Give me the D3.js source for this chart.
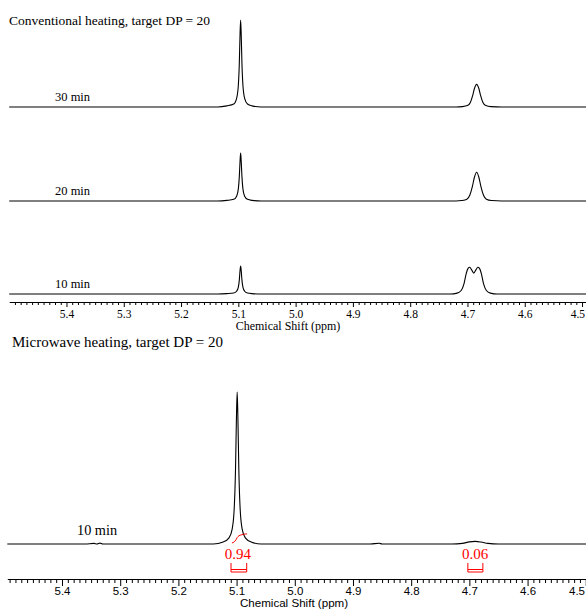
<!DOCTYPE html>
<html>
<head>
<meta charset="utf-8">
<script src="https://d3js.org/d3.v7.min.js"></script>
<style>
  body { margin: 0; background: #fff; }
  .trace { fill: none; stroke: #000; stroke-width: 1.1px; }
  .integral { fill: none; stroke: #f00; stroke-width: 1px; }
  .serif { font-family: "Liberation Serif", "Times New Roman", serif; }
  .sans { font-family: "Liberation Sans", Arial, sans-serif; }
  .axis path, .axis line { stroke: #000; }
</style>
</head>
<body>
<svg id="chart" width="586" height="609"></svg>
<script>
  // spectra as [ppm, intensity] points
  const conv30 = [
    [5.50, 0], [5.20, 0], [5.136, 0], [5.120, 1.3], [5.108, 3.5], [5.103, 10], [5.100, 25], [5.0983, 50],
    [5.097, 84], [5.096, 100], [5.095, 84], [5.0937, 50], [5.092, 25], [5.089, 10], [5.084, 3.5],
    [5.076, 1.3], [5.06, 0], [4.80, 0], [4.72, 0], [4.709, 0.4], [4.700, 1.6], [4.695, 5.2],
    [4.691, 13], [4.688, 21], [4.684, 26], [4.680, 21], [4.677, 13], [4.673, 5.2], [4.668, 1.6],
    [4.659, 0.4], [4.64, 0], [4.48, 0]
  ];
  const conv20 = [
    [5.50, 0], [5.20, 0], [5.136, 0], [5.120, 0.7], [5.108, 1.9], [5.103, 5.5], [5.100, 14], [5.0983, 28],
    [5.097, 46], [5.096, 55], [5.095, 46], [5.0937, 28], [5.092, 14], [5.089, 5.5], [5.084, 1.9],
    [5.076, 0.7], [5.06, 0], [4.80, 0], [4.72, 0], [4.710, 0.5], [4.701, 2], [4.696, 6.6],
    [4.6915, 16.5], [4.688, 27], [4.684, 33], [4.680, 27], [4.6765, 16.5], [4.672, 6.6], [4.667, 2],
    [4.658, 0.5], [4.64, 0], [4.48, 0]
  ];
  const conv10 = [
    [5.50, 0], [5.20, 0], [5.136, 0], [5.120, 0.4], [5.108, 1.1], [5.103, 3.2], [5.100, 8], [5.0983, 16],
    [5.097, 27], [5.096, 32], [5.095, 27], [5.0937, 16], [5.092, 8], [5.089, 3.2], [5.084, 1.1],
    [5.076, 0.4], [5.06, 0], [4.80, 0], [4.73, 0], [4.718, 1], [4.711, 4], [4.706, 12], [4.702, 24],
    [4.699, 29.5], [4.696, 30.7], [4.693, 28], [4.689, 24], [4.685, 28], [4.682, 30.7], [4.679, 29.5],
    [4.676, 24], [4.672, 12], [4.667, 4], [4.660, 1], [4.648, 0], [4.48, 0]
  ];
  const micro10 = [
    [5.494, 0], [5.36, 0], [5.345, 0.4], [5.340, 0], [5.335, 0.6], [5.330, 0], [5.14, 0], [5.123, 1.3],
    [5.113, 4], [5.1075, 10], [5.104, 24], [5.1018, 50], [5.1002, 84], [5.099, 100], [5.0978, 84],
    [5.0962, 50], [5.094, 24], [5.0905, 10], [5.085, 4], [5.075, 1.3], [5.058, 0], [4.87, 0],
    [4.855, 0.5], [4.850, 0], [4.73, 0], [4.712, 0.4], [4.700, 1.4], [4.690, 1.7], [4.680, 1.3],
    [4.668, 0.4], [4.65, 0], [4.48, 0]
  ];
  const microIntegral = [
    [5.108, 0.7], [5.104, 1.4], [5.101, 2.8], [5.099, 4.2], [5.096, 5.4], [5.092, 6.0], [5.088, 6.4],
    [5.085, 6.6], [5.082, 6.6]
  ];
  const convLabels = ["30 min", "20 min", "10 min"];
  const integralRanges = [[5.1096, 5.0826], [4.7026, 4.6768]];
  const integralValues = ["0.94", "0.06"];
  const integralCenters = [5.098, 4.690];

  const svg = d3.select("#chart");

  // last tick label sits against the right edge, as in the original
  function fitLastLabel(g) {
    g.selectAll(".tick").filter(d => d === 4.5).select("text")
      .attr("text-anchor", "end")
      .attr("x", function () { return 585 - d3.select(this.parentNode).datum() * 0 - xOf(this); });
  }
  function xOf(node) {
    const t = node.parentNode.getAttribute("transform");
    return +t.match(/translate\(([-\d.]+)/)[1];
  }

  // ---- top panel: conventional heating ----
  const xTop = d3.scaleLinear().domain([5.5, 4.48]).range([9.2, 593.5]);
  const topBaselines = [107, 201, 294];
  const convTraces = [conv30, conv20, conv10];

  convTraces.forEach((tr, i) => {
    const y = d3.scaleLinear().domain([0, 100]).range([topBaselines[i], topBaselines[i] - 87]);
    const line = d3.line().x(d => xTop(d[0])).y(d => y(d[1])).curve(d3.curveMonotoneX);
    svg.append("path").datum(tr).attr("class", "trace").attr("d", line);
    svg.append("text").attr("class", "serif")
      .attr("x", 55).attr("y", topBaselines[i] - 6)
      .style("font-size", "12.5px")
      .text(convLabels[i]);
  });

  svg.append("text").attr("class", "serif")
    .attr("x", 9).attr("y", 25)
    .style("font-size", "13.5px")
    .text("Conventional heating, target DP = 20");

  const ticksAll = d3.range(449, 550).map(d => d / 100);
  const minorTicks = ticksAll.filter(d => Math.round(d * 100) % 10 !== 0);
  const majorTicks = d3.range(45, 55).map(d => d / 10);

  const topAxisY = 302;
  svg.append("g").attr("class", "axis")
    .attr("transform", `translate(0,${topAxisY})`)
    .call(d3.axisBottom(xTop).tickValues(minorTicks).tickSize(3).tickSizeOuter(0).tickFormat(""));
  const topMajor = svg.append("g").attr("class", "axis serif")
    .attr("transform", `translate(0,${topAxisY})`)
    .call(d3.axisBottom(xTop).tickValues(majorTicks).tickSize(5).tickSizeOuter(0).tickFormat(d3.format(".1f")));
  topMajor.select(".domain").remove();
  topMajor.selectAll("text").attr("y", 8).style("font-size", "11.5px")
    .style("font-family", '"Liberation Serif", "Times New Roman", serif');
  fitLastLabel(topMajor);
  svg.append("text").attr("class", "serif")
    .attr("x", 288).attr("y", 330).attr("text-anchor", "middle")
    .style("font-size", "12px")
    .text("Chemical Shift (ppm)");

  // ---- bottom panel: microwave heating ----
  const xBot = d3.scaleLinear().domain([5.494, 4.48]).range([7.3, 597.4]);
  const yBot = d3.scaleLinear().domain([0, 100]).range([544, 392]);
  const botLine = d3.line().x(d => xBot(d[0])).y(d => yBot(d[1])).curve(d3.curveMonotoneX);

  svg.append("text").attr("class", "serif")
    .attr("x", 12).attr("y", 347)
    .style("font-size", "15px")
    .text("Microwave heating, target DP = 20");

  svg.append("path").datum(micro10).attr("class", "trace").attr("d", botLine);
  svg.append("path").datum(microIntegral).attr("class", "integral").attr("d", botLine);

  svg.append("text").attr("class", "serif")
    .attr("x", 77).attr("y", 535)
    .style("font-size", "14.3px")
    .text("10 min");

  integralRanges.forEach((r, i) => {
    const x0 = xBot(r[0]), x1 = xBot(r[1]);
    const g = svg.append("g").attr("stroke", "#f00").attr("stroke-width", 1).attr("fill", "none");
    g.append("path").attr("d", `M${x0},563V572M${x1},563V572M${x0},569.5H${x1}M${x0},572H${x1}`);
    svg.append("text").attr("class", "serif")
      .attr("x", xBot(integralCenters[i])).attr("y", 559).attr("text-anchor", "middle")
      .attr("fill", "#f00")
      .style("font-size", "15px")
      .text(integralValues[i]);
  });

  const botAxisY = 579;
  svg.append("g").attr("class", "axis")
    .attr("transform", `translate(0,${botAxisY})`)
    .call(d3.axisBottom(xBot).tickValues(minorTicks.filter(d => d < 5.494)).tickSize(4).tickSizeOuter(0).tickFormat(""));
  const botMajor = svg.append("g").attr("class", "axis")
    .attr("transform", `translate(0,${botAxisY})`)
    .call(d3.axisBottom(xBot).tickValues(majorTicks).tickSize(7).tickSizeOuter(0).tickFormat(d3.format(".1f")));
  botMajor.select(".domain").remove();
  botMajor.selectAll("text").attr("y", 8).style("font-size", "11.5px")
    .style("font-family", '"Liberation Sans", Arial, sans-serif');
  fitLastLabel(botMajor);
  svg.append("text").attr("class", "sans")
    .attr("x", 294).attr("y", 607).attr("text-anchor", "middle")
    .style("font-size", "11.6px")
    .text("Chemical Shift (ppm)");
</script>
</body>
</html>
